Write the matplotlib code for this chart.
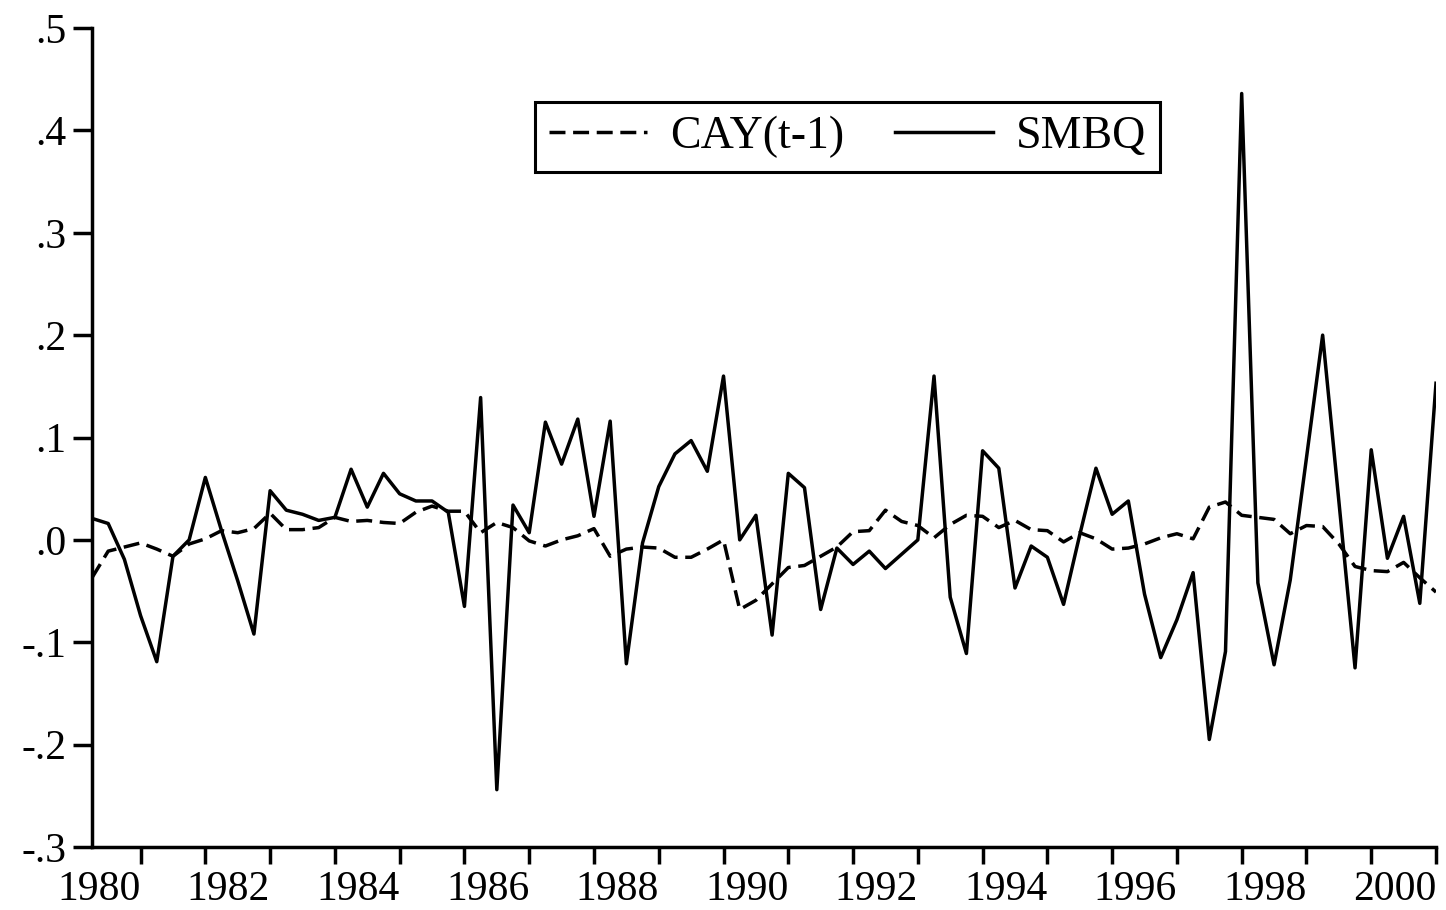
import matplotlib
matplotlib.use("Agg")
import matplotlib.pyplot as plt
from matplotlib.ticker import FixedLocator, FixedFormatter
import numpy as np

plt.rcParams['font.family'] = ['Liberation Serif', 'DejaVu Serif']
plt.rcParams['lines.scale_dashes'] = False

# Quarterly observations 1980Q1 .. 2000Q4
years = list(range(1980, 2001))
quarters = [f"{y}Q{q}" for y in years for q in range(1, 5)]

smbq = [0.021, 0.016, -0.019, -0.074, -0.119, -0.016, 0.000, 0.061,
        0.009, -0.040, -0.092, 0.048, 0.029, 0.025, 0.019, 0.022,
        0.069, 0.032, 0.065, 0.045, 0.038, 0.038, 0.027, -0.065,
        0.139, -0.244, 0.034, 0.007, 0.115, 0.074, 0.118, 0.023,
        0.116, -0.121, -0.003, 0.052, 0.084, 0.097, 0.067, 0.160,
        0.000, 0.024, -0.093, 0.065, 0.051, -0.068, -0.008, -0.024,
        -0.011, -0.028, -0.014, 0.000, 0.160, -0.056, -0.111, 0.087,
        0.070, -0.047, -0.006, -0.017, -0.063, 0.005, 0.070, 0.025,
        0.038, -0.053, -0.115, -0.078, -0.032, -0.195, -0.109, 0.436,
        -0.042, -0.122, -0.039, 0.080, 0.200, 0.038, -0.125, 0.088,
        -0.018, 0.023, -0.062, 0.153]

cay_lag = [-0.037, -0.011, -0.007, -0.003, -0.009, -0.016, -0.004, 0.001,
           0.009, 0.007, 0.011, 0.026, 0.010, 0.010, 0.012, 0.022,
           0.018, 0.019, 0.017, 0.016, 0.027, 0.033, 0.028, 0.028,
           0.007, 0.017, 0.012, -0.001, -0.006, 0.000, 0.004, 0.011,
           -0.016, -0.009, -0.007, -0.008, -0.017, -0.017, -0.009, 0.000,
           -0.068, -0.059, -0.043, -0.027, -0.025, -0.016, -0.007, 0.008,
           0.009, 0.029, 0.018, 0.014, 0.002, 0.015, 0.024, 0.023,
           0.012, 0.019, 0.010, 0.009, -0.002, 0.007, 0.001, -0.009,
           -0.008, -0.004, 0.002, 0.006, 0.001, 0.032, 0.037, 0.024,
           0.022, 0.020, 0.006, 0.014, 0.013, -0.004, -0.026, -0.030,
           -0.031, -0.022, -0.037, -0.051]

y_ticks = [-0.3, -0.2, -0.1, 0.0, 0.1, 0.2, 0.3, 0.4, 0.5]
y_labels = ['-.3', '-.2', '-.1', '.0', '.1', '.2', '.3', '.4', '.5']
x_labels = [str(y) for y in range(1980, 2001, 2)]

x = np.arange(len(quarters))

fig = plt.figure(figsize=(14.46, 9.10), dpi=100)
ax = fig.add_axes([92/1446, 63/910, (1436-92)/1446, (847-28)/910])

ax.plot(x, cay_lag, color='black', lw=2.5, dashes=(11.5, 5.5), label='CAY(t-1)')
ax.plot(x, smbq, color='black', lw=2.5, label='SMBQ')

ax.set_xlim(0, len(quarters) - 1)
ax.set_ylim(-0.3, 0.5)

for s in ['top', 'right']:
    ax.spines[s].set_visible(False)
for s in ['left', 'bottom']:
    ax.spines[s].set_linewidth(2.5)

ax.yaxis.set_major_locator(FixedLocator(y_ticks))
ax.yaxis.set_major_formatter(FixedFormatter(y_labels))

# year-end ticks (4th quarter of every year); labels on even years
major_pos = [quarters.index(f"{int(l)}Q4") for l in x_labels]
minor_pos = [quarters.index(f"{y}Q4") for y in years if y % 2 == 1]
ax.xaxis.set_major_locator(FixedLocator(major_pos))
ax.xaxis.set_major_formatter(FixedFormatter(x_labels))
ax.xaxis.set_minor_locator(FixedLocator(minor_pos))

ax.tick_params(axis='y', direction='out', length=13.5, width=2.5, pad=5, labelsize=30)
ax.tick_params(axis='x', which='both', direction='out', length=12, width=2.5, pad=5, labelsize=30)
for lbl in ax.get_xticklabels():
    lbl.set_horizontalalignment('right')

leg = ax.legend(loc='upper left', bbox_to_anchor=(535/1446, 1 - 102/910),
                bbox_transform=fig.transFigure, ncol=2, fontsize=33,
                frameon=True, fancybox=False, framealpha=1, edgecolor='black',
                handlelength=2.15, handletextpad=0.5, columnspacing=1.1,
                borderpad=0.3, borderaxespad=0)
leg.get_frame().set_linewidth(2.2)

fig.savefig('out.png', dpi=100, facecolor='white')
